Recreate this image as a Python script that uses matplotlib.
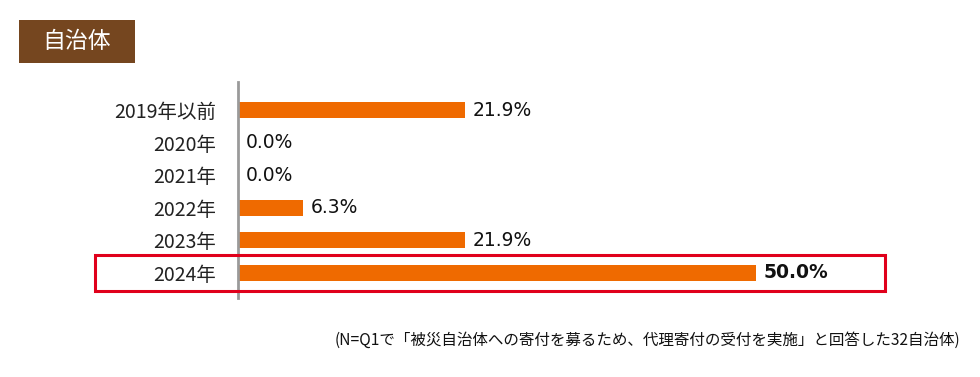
import matplotlib
matplotlib.use("Agg")
import matplotlib.pyplot as plt
from matplotlib.patches import Rectangle
from matplotlib.transforms import blended_transform_factory

plt.rcParams['font.family'] = ['Noto Sans CJK JP', 'DejaVu Sans']

categories = ["2019年以前", "2020年", "2021年", "2022年", "2023年", "2024年"]
values = [21.9, 0.0, 0.0, 6.3, 21.9, 50.0]
value_labels = ["21.9%", "0.0%", "0.0%", "6.3%", "21.9%", "50.0%"]
title_text = "自治体"
footnote = "(N=Q1で「被災自治体への寄付を募るため、代理寄付の受付を実施」と回答した32自治体)"
highlight = "2024年"

W, H = 980, 377
fig = plt.figure(figsize=(W / 100, H / 100), dpi=100)

# axes in pixel geometry
left_px, right_px = 238, 938
top_px, bottom_px = 82, 298
ax = fig.add_axes([left_px / W, 1 - bottom_px / H, (right_px - left_px) / W, (bottom_px - top_px) / H])

px_per_pct = (756 - 238) / 50.0
ax.set_xlim(0, (right_px - left_px) / px_per_pct)
ax.set_ylim(5.77, -0.86)

bar_color = "#EF6A00"
ys = list(range(len(categories)))
ax.barh(ys, values, height=0.5, color=bar_color, edgecolor="none")

for y, v, lab, cat in zip(ys, values, value_labels, categories):
    bold = cat == highlight
    ax.text(v + 0.7, y, lab, va="center", ha="left", fontsize=13.5,
            family="DejaVu Sans", color="#111111",
            fontweight="bold" if bold else "normal")

ax.set_yticks(ys)
ax.set_yticklabels(categories, fontsize=14, color="#222222")
ax.tick_params(axis="y", length=0, pad=16)
ax.set_xticks([])
for s in ["top", "right", "bottom"]:
    ax.spines[s].set_visible(False)
ax.spines["left"].set_color("#9a9a9a")
ax.spines["left"].set_linewidth(2)

# highlight box around the 2024 row
idx = categories.index(highlight)
tr = blended_transform_factory(fig.transFigure, ax.transData)
x0, x1 = 95 / W, 885 / W
rect = Rectangle((x0, idx + 0.55), x1 - x0, -1.1, transform=tr, fill=False,
                 edgecolor="#E0001B", linewidth=2.2, clip_on=False)
fig.add_artist(rect)

# title box
fig.add_artist(Rectangle((19 / W, 1 - 63 / H), (135 - 19) / W, (63 - 20) / H,
                         transform=fig.transFigure, facecolor="#75461F", edgecolor="none"))
fig.text(77 / W, 1 - 42 / H, title_text, color="white", fontsize=16.5,
         ha="center", va="center")

fig.text(960 / W, 1 - 340 / H, footnote, ha="right", va="center", fontsize=11.2,
         color="#111111")

fig.savefig("out.png", dpi=100, facecolor="white")
